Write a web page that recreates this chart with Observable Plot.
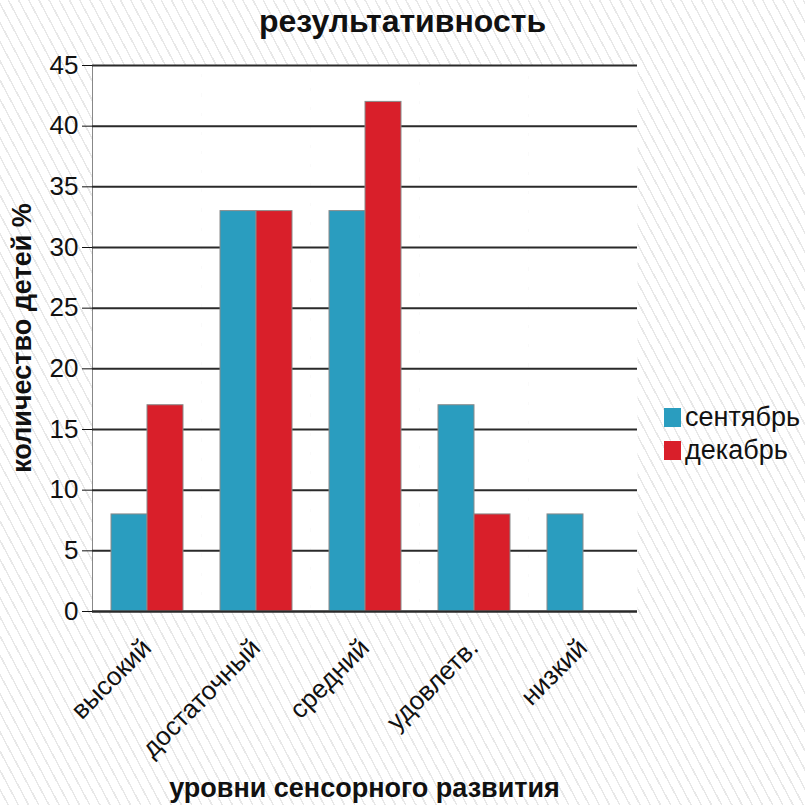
<!DOCTYPE html>
<html>
<head>
<meta charset="utf-8">
<script src="https://cdn.jsdelivr.net/npm/d3@7"></script>
<script src="https://cdn.jsdelivr.net/npm/@observablehq/plot@0.6"></script>
<style>
  html, body { margin: 0; padding: 0; }
  body {
    width: 805px; height: 805px; overflow: hidden;
    background-color: #ffffff;
    background-image: repeating-linear-gradient(62deg, #ffffff 0px, #ffffff 6.5px, #e8e8e8 6.5px, #e8e8e8 8px, #ffffff 8px, #ffffff 9px);
    font-family: "Liberation Sans", Arial, sans-serif;
  }
  #wrap { position: relative; width: 805px; height: 805px; }
  #chart { position: absolute; left: 0; top: 0; }
  .title { position: absolute; left: 0; width: 805px; top: 3px; text-align: center; font-weight: bold; font-size: 32px; color: #111; }
  .xlabel { position: absolute; left: 92px; width: 545px; top: 773px; text-align: center; font-weight: bold; font-size: 27px; color: #111; }
  .ylabel { position: absolute; left: 22px; top: 338px; transform: translate(-50%, -50%) rotate(-90deg); white-space: nowrap; font-weight: bold; font-size: 27px; color: #111; }
  .legend { position: absolute; left: 664px; top: 401px; font-size: 27px; color: #111; }
  .legend div { display: flex; align-items: center; height: 33px; }
  .legend span.sw { display: inline-block; width: 17px; height: 19px; margin-right: 4px; }
</style>
</head>
<body>
<div id="wrap">
  <div id="chart"></div>
  <div class="title">результативность</div>
  <div class="ylabel">количество детей %</div>
  <div class="xlabel">уровни сенсорного развития</div>
  <div class="legend" id="legend"></div>
</div>
<script>
const categories = ["высокий", "достаточный", "средний", "удовлетв.", "низкий"];
const seriesNames = ["сентябрь", "декабрь"];
const september = [8, 33, 33, 17, 8];
const december = [17, 33, 42, 8, 0];
const yTicks = [0, 5, 10, 15, 20, 25, 30, 35, 40, 45];
const colors = ["#2a9dbf", "#d91f2a"];

const data = categories.flatMap((c, i) => [
  {category: c, series: seriesNames[0], value: september[i]},
  {category: c, series: seriesNames[1], value: december[i]}
]);

const chart = Plot.plot({
  width: 805,
  height: 805,
  marginLeft: 92,
  marginRight: 168,
  marginTop: 65,
  marginBottom: 194,
  style: {background: "transparent", fontFamily: "Liberation Sans, Arial, sans-serif", fontSize: "26px", color: "#111"},
  fx: {domain: categories, padding: 0, label: null, axis: "bottom", tickRotate: -45, tickSize: 0, tickPadding: 32},
  x: {domain: seriesNames, paddingInner: 0, paddingOuter: 0.5, axis: null},
  y: {domain: [0, 45], ticks: yTicks, tickSize: 10, tickPadding: 4, label: null, line: true},
  color: {domain: seriesNames, range: colors},
  marks: [
    Plot.frame({fill: "white", stroke: null}),
    Plot.ruleY(yTicks, {stroke: "#2a2a2a", strokeWidth: 2}),
    Plot.barY(data, {fx: "category", x: "series", y: "value", fill: "series", stroke: "#8a8a8a", strokeWidth: 1}),
    Plot.ruleY([0], {stroke: "#2a2a2a", strokeWidth: 2})
  ]
});
document.getElementById("chart").appendChild(chart);

const legend = document.getElementById("legend");
seriesNames.forEach((s, i) => {
  const row = document.createElement("div");
  const sw = document.createElement("span");
  sw.className = "sw";
  sw.style.background = colors[i];
  row.appendChild(sw);
  row.appendChild(document.createTextNode(s));
  legend.appendChild(row);
});
</script>
</body>
</html>
